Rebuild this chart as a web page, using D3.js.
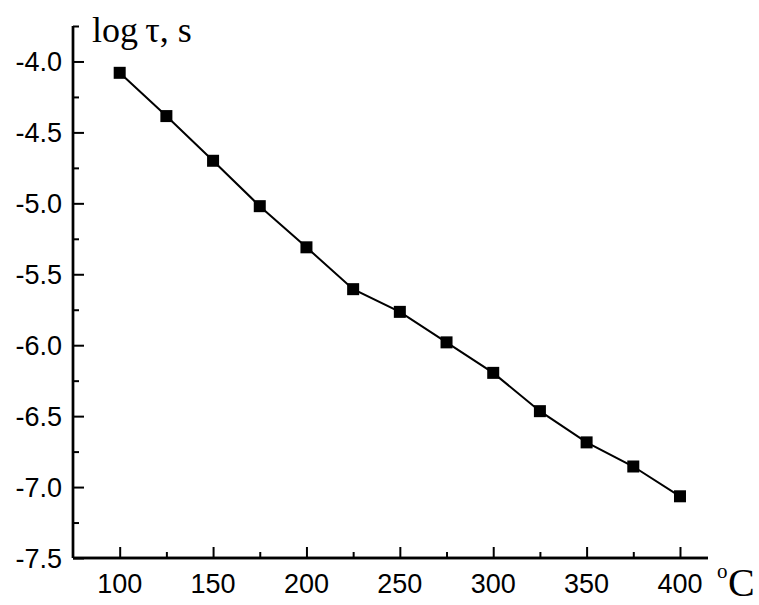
<!DOCTYPE html>
<html>
<head>
<meta charset="utf-8">
<script src="https://cdn.jsdelivr.net/npm/d3@7"></script>
<style>
  html, body { margin: 0; padding: 0; background: #fff; }
  svg { display: block; }
</style>
</head>
<body>
<div id="chart"></div>
<script>
const WIDTH = 759;
const HEIGHT = 605;

// data
const temps = [100, 125, 150, 175, 200, 225, 250, 275, 300, 325, 350, 375, 400];
const logTau = [-4.08, -4.385, -4.70, -5.02, -5.31, -5.605, -5.765, -5.98, -6.195, -6.465, -6.685, -6.855, -7.065];
const xMajor = [100, 150, 200, 250, 300, 350, 400];
const xMinor = [125, 175, 225, 275, 325, 375];
const yMajor = [-4.0, -4.5, -5.0, -5.5, -6.0, -6.5, -7.0, -7.5];
const yMinor = [-3.75, -4.25, -4.75, -5.25, -5.75, -6.25, -6.75, -7.25];

const x = d3.scaleLinear().domain([75, 415]).range([73, 708]);
const y = d3.scaleLinear().domain([-7.5, -3.75]).range([558, 26]);

const svg = d3.select("#chart").append("svg")
  .attr("width", WIDTH)
  .attr("height", HEIGHT);

const fmt = d3.format(".1f");

// x axis, ticks point inward
const xAxis = svg.append("g").attr("transform", `translate(0,${y(-7.5)})`);
xAxis.call(d3.axisTop(x).tickValues(xMajor).tickSize(11).tickFormat(""));
xAxis.append("g").call(d3.axisTop(x).tickValues(xMinor).tickSize(6).tickFormat(""));
xAxis.selectAll(".domain").attr("stroke-width", 2.4).attr("d", `M${x(75)},0H${x(415)}`);
xAxis.selectAll(".tick line").attr("stroke-width", 2);

// y axis
const yAxis = svg.append("g").attr("transform", `translate(${x(75)},0)`);
yAxis.call(d3.axisRight(y).tickValues(yMajor).tickSize(11).tickFormat(""));
yAxis.append("g").call(d3.axisRight(y).tickValues(yMinor).tickSize(6).tickFormat(""));
yAxis.selectAll(".domain").attr("stroke-width", 2.4).attr("d", `M0,${y(-3.75)}V${y(-7.5)}`);
yAxis.selectAll(".tick line").attr("stroke-width", 2);

// tick labels
svg.append("g").selectAll("text")
  .data(xMajor)
  .join("text")
  .attr("x", d => x(d))
  .attr("y", 593)
  .attr("text-anchor", "middle")
  .attr("font-family", "Liberation Sans, Arial, sans-serif")
  .attr("font-size", 27)
  .text(d => d);

svg.append("g").selectAll("text")
  .data(yMajor)
  .join("text")
  .attr("x", 62)
  .attr("y", d => y(d))
  .attr("dy", "0.36em")
  .attr("text-anchor", "end")
  .attr("font-family", "Liberation Sans, Arial, sans-serif")
  .attr("font-size", 27)
  .text(d => fmt(d).replace("\u2212", "-"));

// line + markers
const pts = temps.map((t, i) => [t, logTau[i]]);
svg.append("path")
  .datum(pts)
  .attr("fill", "none")
  .attr("stroke", "#000")
  .attr("stroke-width", 2)
  .attr("d", d3.line().x(d => x(d[0])).y(d => y(d[1])));

const MS = 12;
svg.append("g").selectAll("rect")
  .data(pts)
  .join("rect")
  .attr("x", d => x(d[0]) - MS / 2)
  .attr("y", d => y(d[1]) - MS / 2)
  .attr("width", MS)
  .attr("height", MS)
  .attr("fill", "#000");

// axis titles
svg.append("text")
  .attr("x", 92)
  .attr("y", 42)
  .attr("font-family", "Liberation Serif, Times New Roman, serif")
  .attr("font-size", 36)
  .text("log\u2009\u03c4, s");

const unit = svg.append("text")
  .attr("font-family", "Liberation Serif, Times New Roman, serif");
unit.append("tspan").attr("x", 717).attr("y", 578).attr("font-size", 21).text("o");
unit.append("tspan").attr("x", 728).attr("y", 596).attr("font-size", 40).text("C");
</script>
</body>
</html>
